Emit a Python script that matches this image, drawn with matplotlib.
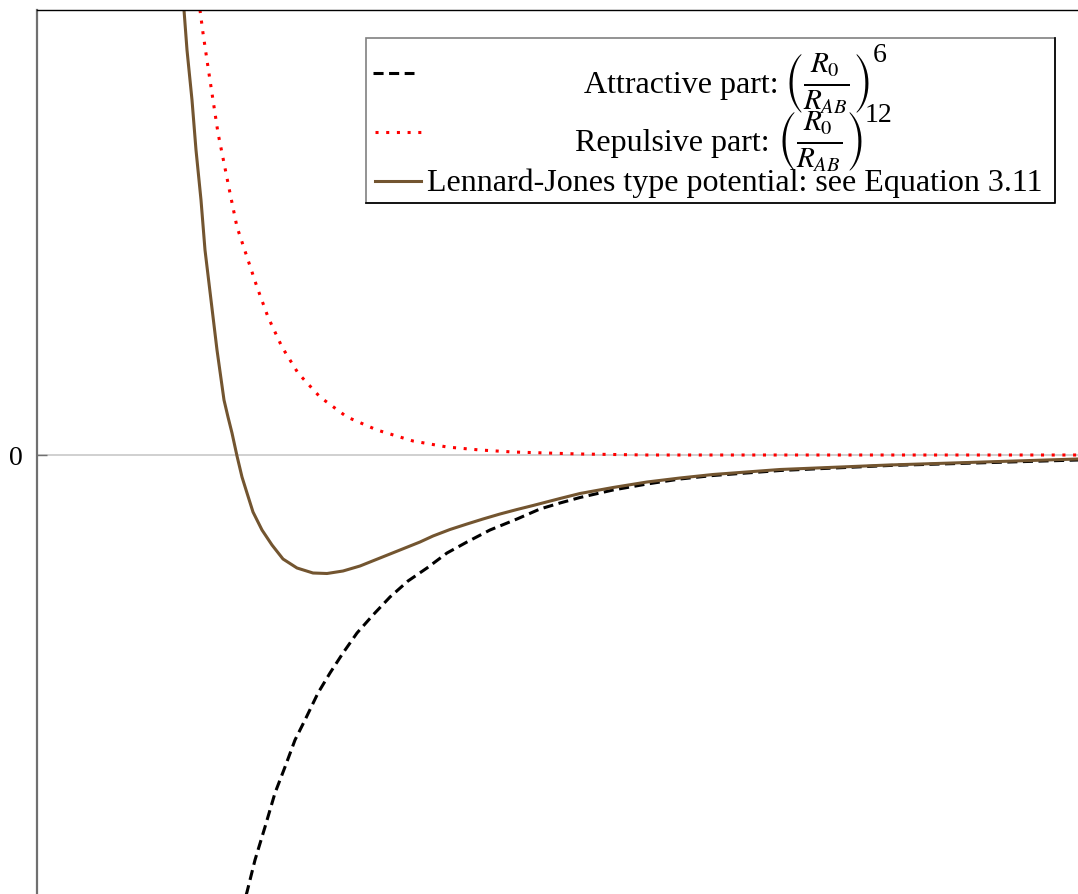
import numpy as np
import matplotlib.pyplot as plt
from matplotlib.patches import Rectangle

plt.rcParams['font.family'] = ['Liberation Serif', 'DejaVu Serif']
plt.rcParams['mathtext.fontset'] = 'stix'

# values (arbitrary units: R along x, energy along y)
lj_r = [1.47, 1.50, 1.55, 1.59, 1.64, 1.68, 1.74, 1.80, 1.87, 1.91, 1.95, 2.00, 2.05, 2.10,
        2.16, 2.25, 2.35, 2.46, 2.60, 2.76, 2.90, 3.06, 3.23, 3.43, 3.63, 3.83, 3.96, 4.13,
        4.30, 4.46, 4.63, 4.80, 4.96, 5.23, 5.43, 5.76, 6.10, 6.43, 6.76, 7.43, 8.52, 10.41]
lj_e = [4.45, 4.05, 3.55, 3.05, 2.55, 2.05, 1.55, 1.05, 0.55, 0.38, 0.22, -0.01, -0.22, -0.38,
        -0.57, -0.75, -0.90, -1.04, -1.13, -1.18, -1.185, -1.16, -1.11, -1.03, -0.95, -0.87, -0.81, -0.745,
        -0.69, -0.64, -0.59, -0.545, -0.505, -0.435, -0.385, -0.325, -0.27, -0.23, -0.195, -0.145, -0.10, -0.04]

att_r = [2.05, 2.10, 2.18, 2.28, 2.38, 2.48, 2.58, 2.68, 2.81, 2.93, 3.06, 3.20, 3.36, 3.53,
         3.71, 3.90, 4.10, 4.30, 4.53, 4.80, 5.03, 5.23, 5.43, 5.76, 6.10, 6.43, 6.76, 7.43,
         8.52, 10.41]
att_e = [-4.55, -4.37, -4.05, -3.72, -3.38, -3.12, -2.85, -2.65, -2.38, -2.18, -1.98, -1.78, -1.60, -1.42,
         -1.26, -1.13, -0.98, -0.87, -0.75, -0.64, -0.54, -0.48, -0.425, -0.35, -0.29, -0.24, -0.205, -0.155,
         -0.105, -0.05]

rep_r = [1.63, 1.66, 1.71, 1.76, 1.81, 1.87, 1.93, 2.00, 2.10, 2.20, 2.31, 2.45, 2.61,
         2.83, 3.10, 3.40, 3.76, 4.10, 4.43, 4.76, 5.43, 6.10, 10.41]
rep_e = [4.45, 4.22, 3.88, 3.55, 3.22, 2.92, 2.62, 2.28, 1.98, 1.68, 1.38, 1.08, 0.82,
         0.58, 0.38, 0.25, 0.14, 0.08, 0.05, 0.03, 0.01, 0.00, 0.00]

names = ['Attractive part:', 'Repulsive part:', 'Lennard-Jones type potential: see Equation 3.11']
ratio = r'$\left(\frac{R_0}{R_{AB}}\right)$'
exponents = ['6', '12']

brown = '#735530'
dash = (0, (3.3, 1.8))
dot = (0, (1, 2.5))

fig = plt.figure(figsize=(10.78, 8.94), dpi=100)
ax = fig.add_axes([37 / 1078, 0, 1 - 37 / 1078, 1 - 10 / 894])

ax.axhline(0, color='#c8c8c8', lw=1.2, zorder=1)
ax.plot(att_r, att_e, color='black', lw=2.2, ls=dash)
ax.plot(rep_r, rep_e, color='red', lw=2.2, ls=dot)
ax.plot(lj_r, lj_e, color=brown, lw=2.2)

ax.set_xlim(0, 10.41)
ax.set_ylim(-4.39, 4.45)

for s in ['right', 'bottom']:
    ax.spines[s].set_visible(False)
ax.spines['left'].set_color('#707070')
ax.spines['left'].set_linewidth(1.6)
ax.spines['top'].set_color('black')
ax.spines['top'].set_linewidth(1.0)
ax.set_xticks([])
ax.set_yticks([0])
ax.tick_params(axis='y', direction='in', length=7, width=1, color='#707070',
               labelsize=20, pad=10)

# legend, drawn in axes coordinates
tr = ax.transAxes
x0, x1, y0, y1 = 0.316, 0.978, 0.782, 0.968
ax.add_patch(Rectangle((x0, y0), x1 - x0, y1 - y0, transform=tr, fill=False,
                       edgecolor='#808080', lw=1.2, zorder=5))
ax.plot([x0, x1, x1], [y0, y0, y1], transform=tr, color='black', lw=1.2, zorder=6)
ax.plot([0.323, 0.362], [0.929, 0.929], transform=tr, color='black', lw=2.2, ls=dash)
ax.plot([0.325, 0.369], [0.862, 0.862], transform=tr, color='red', lw=2.2, ls=dot)
ax.plot([0.325, 0.369], [0.807, 0.807], transform=tr, color=brown, lw=2.2)

ys = [0.906, 0.840]
name_x = [0.712, 0.704]
ratio_x = [0.7175, 0.7105]
exp_pos = [(0.803, 0.941), (0.795, 0.873)]
for i in range(2):
    ax.text(name_x[i], ys[i], names[i], transform=tr, ha='right', va='baseline', fontsize=23)
    ax.text(ratio_x[i], ys[i], ratio, transform=tr, ha='left', va='baseline', fontsize=30)
    ax.text(exp_pos[i][0], exp_pos[i][1], exponents[i], transform=tr, ha='left',
            va='baseline', fontsize=20)
ax.text(0.670, 0.795, names[2], transform=tr, ha='center', va='baseline', fontsize=23)

fig.savefig('out.png', dpi=100)
